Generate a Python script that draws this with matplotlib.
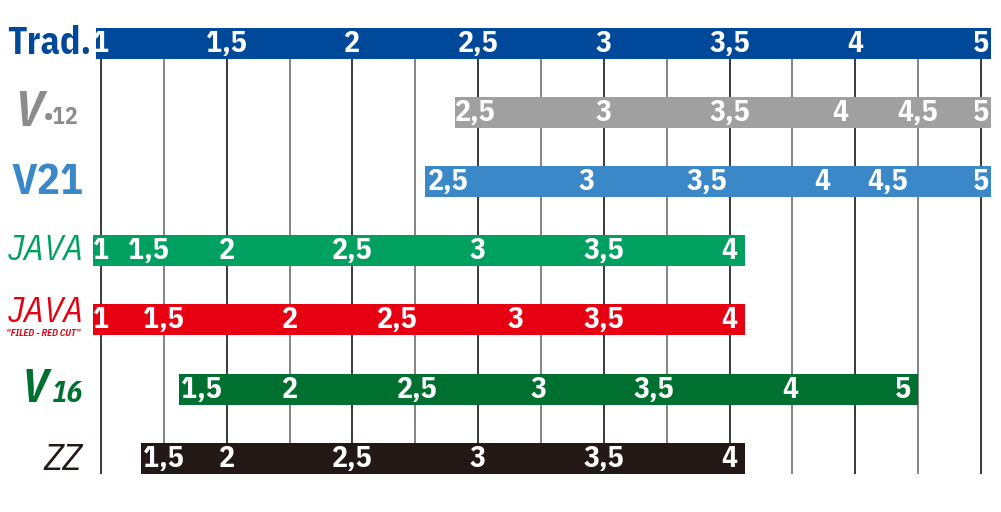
import matplotlib
matplotlib.use("Agg")
import matplotlib.pyplot as plt

# strength scale: position of each reed strength on the Traditional scale
series = ["Trad.", "V12", "V21", "JAVA", "JAVA RED", "V16", "ZZ"]
colors = ["#00499a", "#a0a0a0", "#3a88c8", "#00a060", "#e60012", "#007030", "#231815"]
bar_start = [0.98, 2.41, 2.29, 0.97, 0.97, 1.31, 1.16]
bar_end = [4.54, 4.54, 4.54, 3.56, 3.56, 4.25, 3.56]

labels = [
    ["1", "1,5", "2", "2,5", "3", "3,5", "4", "5"],
    ["2,5", "3", "3,5", "4", "4,5", "5"],
    ["2,5", "3", "3,5", "4", "4,5", "5"],
    ["1", "1,5", "2", "2,5", "3", "3,5", "4"],
    ["1", "1,5", "2", "2,5", "3", "3,5", "4"],
    ["1,5", "2", "2,5", "3", "3,5", "4", "5"],
    ["1,5", "2", "2,5", "3", "3,5", "4"],
]
label_pos = [
    [1.0, 1.5, 2.0, 2.5, 3.0, 3.5, 4.0, 4.5],
    [2.49, 3.0, 3.5, 3.94, 4.25, 4.5],
    [2.38, 2.93, 3.41, 3.87, 4.13, 4.5],
    [1.0, 1.19, 1.5, 2.0, 2.5, 3.0, 3.5],
    [1.0, 1.25, 1.75, 2.18, 2.65, 3.0, 3.5],
    [1.40, 1.75, 2.26, 2.74, 3.2, 3.74, 4.19],
    [1.25, 1.5, 2.0, 2.5, 3.0, 3.5],
]
grid_vals = [1 + 0.25 * k for k in range(15)]

# layout in pixels (vertical)
row_center = [43, 112, 181, 250, 319, 389, 458]
bar_h = 31

W, H = 1001, 512
fig = plt.figure(figsize=(W / 100, H / 100), dpi=100)
ax = fig.add_axes([0, 0, 1, 1])
px_per_unit = 251.4
ax.set_xlim(1 - 101 / px_per_unit, 1 + (W - 101) / px_per_unit)
ax.set_ylim(H, 0)
ax.axis("off")

num_font = ["IBM Plex Sans Condensed", "DejaVu Sans"]

# grid lines
for k, g in enumerate(grid_vals):
    c = "#2a2a2a" if k % 2 == 0 else "#7a7a7a"
    ax.vlines(g, 58, 474, color=c, lw=1.3, zorder=1)

# bars + numbers
for i in range(len(series)):
    ax.barh(row_center[i], bar_end[i] - bar_start[i], left=bar_start[i],
            height=bar_h, color=colors[i], zorder=2)
    for t, p in zip(labels[i], label_pos[i]):
        ax.text(p, row_center[i] + 1, t, color="white", fontsize=21.5,
                fontweight="bold", family=num_font, ha="center", va="center",
                zorder=3)

# row logos (approximated as text)
def px(x):
    return 1 + (x - 101) / px_per_unit

ax.text(px(91), 43, "Trad.", color=colors[0], fontsize=27, fontweight="bold",
        family=num_font, ha="right", va="center")
ax.text(px(14), 112, "V", color="#8c8c8c", fontsize=36, fontweight="bold",
        family=num_font, ha="left", va="center", style="italic")
ax.text(px(44), 118, "•12", color="#8c8c8c", fontsize=17, fontweight="bold",
        family=num_font, ha="left", va="center")
ax.text(px(84), 182, "V21", color=colors[2], fontsize=31, fontweight="bold",
        family=num_font, ha="right", va="center")
ax.text(px(84), 250, "JAVA", color=colors[3], fontsize=26,
        family=num_font, ha="right", va="center", style="italic")
ax.text(px(84), 312, "JAVA", color=colors[4], fontsize=26,
        family=num_font, ha="right", va="center", style="italic")
ax.text(px(43), 333, "\u201cFILED - RED CUT\u201d", color=colors[4], fontsize=6.8,
        fontweight="bold", family=num_font, ha="center", va="center",
        style="italic")
ax.text(px(22), 389, "V", color=colors[5], fontsize=33, fontweight="bold",
        family=num_font, ha="left", va="center", style="italic")
ax.text(px(52), 394, "16", color=colors[5], fontsize=21, fontweight="bold",
        family=num_font, ha="left", va="center", style="italic")
ax.text(px(82), 460, "ZZ", color=colors[6], fontsize=27,
        family=num_font, ha="right", va="center", style="italic")

fig.savefig("out.png", dpi=100)
